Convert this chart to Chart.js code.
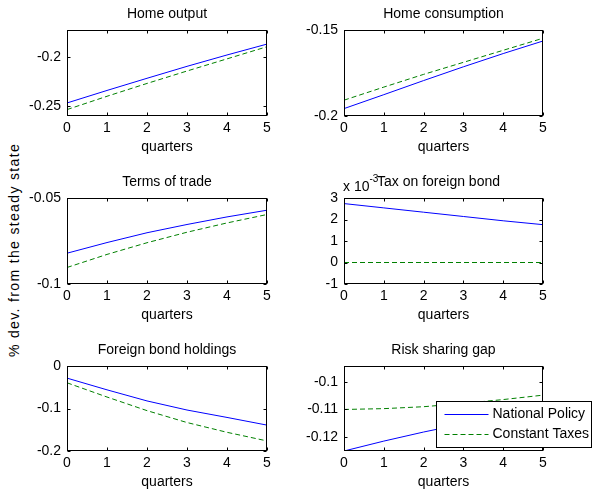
<!DOCTYPE html>
<html>
<head>
<meta charset="utf-8">
<script src="https://cdn.jsdelivr.net/npm/chart.js@4.4.1/dist/chart.umd.min.js"></script>
<style>
    body { margin: 0; background: #fff; width: 595px; height: 489px; overflow: hidden; position: relative;
           font-family: "Liberation Sans", Arial, sans-serif; color: #000; }
    canvas { position: absolute; }
    #ylab { position: absolute; left: -136px; top: 242px; width: 300px; height: 16px; line-height: 16px;
            font-size: 14px; letter-spacing: 1.35px; text-align: center; white-space: nowrap; transform: rotate(-90deg); }
    #exp { position: absolute; left: 343px; top: 178px; font-size: 14px; line-height: 16px; white-space: nowrap; }
    #exp span { font-size: 10px; position: relative; top: -9px; }
</style>
</head>
<body>
<div id="ylab">% dev. from the steady state</div>
<canvas id="c1"></canvas>
<canvas id="c2"></canvas>
<canvas id="c3"></canvas>
<canvas id="c4"></canvas>
<canvas id="c5"></canvas>
<canvas id="c6"></canvas>
<div id="exp">x 10<span>-3</span></div>

<script>
// x axis
const quarters = [0, 1, 2, 3, 4, 5];
const seriesNames = ['National Policy', 'Constant Taxes'];

// Home output
const homeOutputNational = [-0.2469, -0.2340, -0.2215, -0.2092, -0.1975, -0.1863];
const homeOutputConstant = [-0.2537, -0.2400, -0.2268, -0.2140, -0.2015, -0.1890];
const homeOutputTicks = [-0.25, -0.2];
const homeOutputRange = [-0.2603, -0.1718];

// Home consumption
const homeConsNational = [-0.1957, -0.1876, -0.1794, -0.1714, -0.1637, -0.1564];
const homeConsConstant = [-0.1908, -0.1832, -0.1758, -0.1688, -0.1618, -0.1548];
const homeConsTicks = [-0.2, -0.15];
const homeConsRange = [-0.2, -0.15];

// Terms of trade
const totNational = [-0.0821, -0.0759, -0.0702, -0.0654, -0.0610, -0.0571];
const totConstant = [-0.0904, -0.0828, -0.0760, -0.0699, -0.0645, -0.0596];
const totTicks = [-0.1, -0.05];
const totRange = [-0.1, -0.05];

// Tax on foreign bond
const taxNational = [0.00274, 0.00254, 0.00234, 0.00214, 0.00194, 0.00176];
const taxConstant = [0, 0, 0, 0, 0, 0];
const taxTicks = [-0.001, 0, 0.001, 0.002, 0.003];
const taxRange = [-0.001, 0.003];

// Foreign bond holdings
const bondNational = [-0.0285, -0.0561, -0.0822, -0.1036, -0.1210, -0.1391];
const bondConstant = [-0.0395, -0.0730, -0.1050, -0.1330, -0.1560, -0.1763];
const bondTicks = [-0.2, -0.1, 0];
const bondRange = [-0.2, 0];

// Risk sharing gap
const gapNational = [-0.1251, -0.1215, -0.1182, -0.1152, -0.1125, -0.1100];
const gapConstant = [-0.1100, -0.1097, -0.1090, -0.1078, -0.1064, -0.1048];
const gapTicks = [-0.12, -0.11, -0.1];
const gapRange = [-0.1251, -0.0942];

const FONT = '"Liberation Sans", Arial, sans-serif';
Chart.defaults.font.family = FONT;
Chart.defaults.font.size = 14;
Chart.defaults.color = '#000';

// MATLAB style box with inward ticks on all four sides
const matlabAxes = {
    id: 'matlabAxes',
    afterDatasetsDraw(chart) {
        const { ctx, chartArea: a, scales: { x, y } } = chart;
        const L = a.left + 0.5, R = a.right - 0.5, T = a.top + 0.5, B = a.bottom - 0.5;
        const tl = 3;
        ctx.save();
        ctx.strokeStyle = '#000';
        ctx.lineWidth = 1;
        ctx.beginPath();
        x.ticks.forEach(t => {
            const px = Math.round(x.getPixelForValue(t.value)) + 0.5;
            ctx.moveTo(px, B); ctx.lineTo(px, B - tl);
            ctx.moveTo(px, T); ctx.lineTo(px, T + tl);
        });
        y.ticks.forEach(t => {
            const py = Math.round(y.getPixelForValue(t.value)) + 0.5;
            ctx.moveTo(L, py); ctx.lineTo(L + tl, py);
            ctx.moveTo(R, py); ctx.lineTo(R - tl, py);
        });
        ctx.stroke();
        ctx.strokeRect(L, T, R - L, B - T);
        ctx.restore();
    }
};

// panel title above the axes box
const panelTitle = {
    id: 'panelTitle',
    afterDraw(chart, args, opts) {
        const { ctx, chartArea: a } = chart;
        ctx.save();
        ctx.font = '14px ' + FONT;
        ctx.fillStyle = '#000';
        ctx.textAlign = 'center';
        ctx.textBaseline = 'middle';
        ctx.fillText(opts.text, (a.left + a.right) / 2 + (opts.dx || 0), a.top - 16);
        ctx.restore();
    }
};

// boxed legend drawn over the last panel
const boxLegend = {
    id: 'boxLegend',
    afterDraw(chart, args, opts) {
        if (!opts.show) return;
        const { ctx, chartArea: a } = chart;
        const w = 155, h = 46;
        const x0 = Math.round(a.right + 48 - w) + 0.5, y0 = Math.round(a.bottom - 4 - h) + 0.5;
        ctx.save();
        ctx.fillStyle = '#fff';
        ctx.fillRect(x0, y0, w, h);
        ctx.strokeStyle = '#000';
        ctx.lineWidth = 1;
        ctx.strokeRect(x0, y0, w, h);
        ctx.font = '14px ' + FONT;
        ctx.textBaseline = 'middle';
        chart.data.datasets.forEach((ds, i) => {
            const yy = Math.round(y0 + 12 + 20 * i) + 0.5;
            ctx.strokeStyle = ds.borderColor;
            ctx.setLineDash(ds.borderDash || []);
            ctx.beginPath();
            ctx.moveTo(x0 + 8, yy);
            ctx.lineTo(x0 + 52, yy);
            ctx.stroke();
            ctx.setLineDash([]);
            ctx.fillStyle = '#000';
            ctx.fillText(ds.label, x0 + 56, yy);
        });
        ctx.restore();
    }
};

const toPoints = vals => quarters.map((q, i) => ({ x: q, y: vals[i] }));

function makePanel(id, box, title, national, constant, yTicks, yRange, extra) {
    extra = extra || {};
    const yw = 60, top = 30, xh = 42, padR = extra.padR || 12;
    const canvas = document.getElementById(id);
    canvas.width = yw + box.w + padR;
    canvas.height = top + box.h + xh;
    canvas.style.left = (box.l - yw) + 'px';
    canvas.style.top = (box.t - top) + 'px';

    return new Chart(canvas.getContext('2d'), {
        type: 'line',
        data: {
            datasets: [{
                label: seriesNames[0],
                data: toPoints(national),
                borderColor: '#0000ff',
                borderWidth: 1,
                pointRadius: 0,
                tension: 0
            }, {
                label: seriesNames[1],
                data: toPoints(constant),
                borderColor: '#008000',
                borderWidth: 1,
                borderDash: [5, 3],
                pointRadius: 0,
                tension: 0
            }]
        },
        options: {
            responsive: false,
            animation: false,
            devicePixelRatio: 1,
            layout: { padding: { top: top, left: 0, right: padR, bottom: 0 } },
            plugins: {
                legend: { display: false },
                tooltip: { enabled: false },
                panelTitle: { text: title, dx: extra.titleDx || 0 },
                boxLegend: { show: !!extra.legend }
            },
            scales: {
                x: {
                    type: 'linear',
                    min: quarters[0],
                    max: quarters[quarters.length - 1],
                    grid: { display: false, drawTicks: false },
                    border: { display: false },
                    ticks: { stepSize: 1, padding: 4, maxRotation: 0 },
                    title: {
                        display: true, text: 'quarters',
                        font: { size: 14, lineHeight: 1 },
                        padding: { top: 0, bottom: 4 }
                    },
                    afterFit: s => { s.height = xh; }
                },
                y: {
                    min: yRange[0],
                    max: yRange[1],
                    grid: { display: false, drawTicks: false },
                    border: { display: false },
                    ticks: {
                        padding: 6,
                        callback: extra.tickFormat || (v => String(v))
                    },
                    afterBuildTicks: s => { s.ticks = yTicks.map(v => ({ value: v })); },
                    afterFit: s => { s.width = yw; }
                }
            }
        },
        plugins: [matlabAxes, panelTitle, boxLegend]
    });
}

makePanel('c1', { l: 67, t: 30, w: 200, h: 86 }, 'Home output',
    homeOutputNational, homeOutputConstant, homeOutputTicks, homeOutputRange);
makePanel('c2', { l: 344, t: 30, w: 199, h: 86 }, 'Home consumption',
    homeConsNational, homeConsConstant, homeConsTicks, homeConsRange);
makePanel('c3', { l: 67, t: 198, w: 200, h: 86 }, 'Terms of trade',
    totNational, totConstant, totTicks, totRange);
makePanel('c4', { l: 344, t: 198, w: 199, h: 86 }, 'Tax on foreign bond',
    taxNational, taxConstant, taxTicks, taxRange,
    { tickFormat: v => String(Math.round(v * 1000)), titleDx: -5 });
makePanel('c5', { l: 67, t: 366, w: 200, h: 85 }, 'Foreign bond holdings',
    bondNational, bondConstant, bondTicks, bondRange);
makePanel('c6', { l: 344, t: 366, w: 199, h: 85 }, 'Risk sharing gap',
    gapNational, gapConstant, gapTicks, gapRange, { legend: true, padR: 52 });
</script>
</body>
</html>
